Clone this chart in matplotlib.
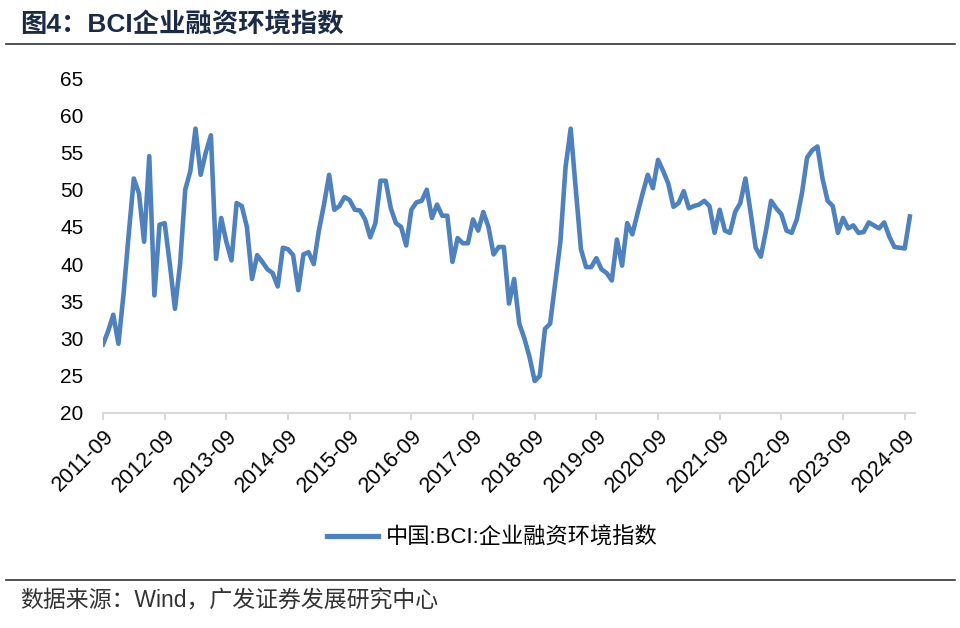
import numpy as np
import matplotlib.pyplot as plt
from matplotlib.lines import Line2D

plt.rcParams['font.family'] = ['Liberation Sans', 'Noto Sans CJK SC', 'DejaVu Sans']

# BCI financing environment index, monthly 2011-09 .. 2024-10
bci = [
    29.2, 31.0, 33.2, 29.3, 36.0, 44.0, 51.5, 49.5, 43.0, 54.5, 35.8, 45.3,  # 2011-09..2012-08
    45.5, 40.0, 34.0, 40.0, 50.0, 52.5, 58.2, 52.0, 55.0, 57.3, 40.7, 46.2,  # 2012-09..2013-08
    43.0, 40.5, 48.2, 47.8, 45.0, 38.0, 41.2, 40.3, 39.3, 38.8, 37.0, 42.2,  # 2013-09..2014-08
    42.0, 41.2, 36.5, 41.3, 41.6, 40.0, 44.5, 48.0, 52.0, 47.3, 47.8, 49.0,  # 2014-09..2015-08
    48.6, 47.3, 47.2, 46.0, 43.6, 45.5, 51.2, 51.2, 47.5, 45.5, 45.0, 42.5,  # 2015-09..2016-08
    47.3, 48.3, 48.5, 50.0, 46.2, 48.0, 46.5, 46.5, 40.3, 43.5, 42.8, 42.8,  # 2016-09..2017-08
    46.0, 44.5, 47.0, 45.0, 41.3, 42.3, 42.3, 34.7, 38.0, 32.0, 30.0, 27.5,  # 2017-09..2018-08
    24.3, 25.0, 31.3, 32.0, 37.5, 43.0, 53.0, 58.2, 50.0, 42.0, 39.6, 39.6,  # 2018-09..2019-08
    40.8, 39.3, 38.8, 37.8, 43.3, 39.8, 45.5, 44.0, 46.8, 49.5, 52.0, 50.2,  # 2019-09..2020-08
    54.0, 52.5, 50.8, 47.7, 48.2, 49.8, 47.5, 47.8, 48.0, 48.5, 47.8, 44.2,  # 2020-09..2021-08
    47.3, 44.5, 44.2, 47.0, 48.2, 51.5, 47.0, 42.2, 41.0, 44.5, 48.5, 47.5,  # 2021-09..2022-08
    46.7, 44.5, 44.2, 46.0, 49.5, 54.3, 55.3, 55.8, 51.5, 48.5, 47.8, 44.2,  # 2022-09..2023-08
    46.2, 44.8, 45.2, 44.2, 44.3, 45.6, 45.2, 44.8, 45.6, 43.7, 42.3, 42.2,  # 2023-09..2024-08
    42.1, 46.4,                                                              # 2024-09..2024-10
]
tick_labels = ['2011-09', '2012-09', '2013-09', '2014-09', '2015-09', '2016-09', '2017-09',
               '2018-09', '2019-09', '2020-09', '2021-09', '2022-09', '2023-09', '2024-09']
y_ticks = [20, 25, 30, 35, 40, 45, 50, 55, 60, 65]
series_name = '中国:BCI:企业融资环境指数'

blue = '#4f81bd'
grey = '#d9d9d9'

fig = plt.figure(figsize=(9.6, 6.28), dpi=100)
ax = fig.add_axes([103 / 960, 1 - 413 / 628, 812 / 960, 335 / 628])

x = np.arange(len(bci))
ax.plot(x, bci, color=blue, lw=3.3, solid_joinstyle='round')

ax.set_xlim(0, 158)
ax.set_ylim(20, 65)
ax.set_yticks(y_ticks)
ax.set_xticks(np.arange(len(tick_labels)) * 12)
ax.set_xticklabels(tick_labels, rotation=45, ha='right', rotation_mode='anchor')

for s in ['left', 'right', 'top']:
    ax.spines[s].set_visible(False)
ax.spines['bottom'].set_color(grey)
ax.spines['bottom'].set_linewidth(1.5)
ax.tick_params(axis='y', length=0, pad=14, labelsize=15, colors='black')
ax.tick_params(axis='x', length=5, width=1.5, color=grey, pad=4, labelsize=15.5)

# legend below the plot
handle = Line2D([], [], color=blue, lw=3.8)
fig.legend([handle], [series_name], loc='center', bbox_to_anchor=(492 / 960, 1 - 538 / 628),
           frameon=False, fontsize=16, handlelength=2.3, handletextpad=0.35)

# title and source
fig.text(20 / 960, 1 - 25 / 628, '图4：BCI企业融资环境指数', fontsize=19, fontweight='bold',
         color='#1c2b45', va='center', ha='left')
fig.add_artist(Line2D([6 / 960, 955 / 960], [1 - 44 / 628] * 2, color='#333333', lw=1.2))
fig.add_artist(Line2D([6 / 960, 955 / 960], [1 - 580 / 628] * 2, color='#333333', lw=1.2))
fig.text(20 / 960, 1 - 601 / 628, '数据来源：Wind，广发证券发展研究中心', fontsize=16.5,
         color='#333333', va='center', ha='left')

fig.savefig('out.png', dpi=100)
